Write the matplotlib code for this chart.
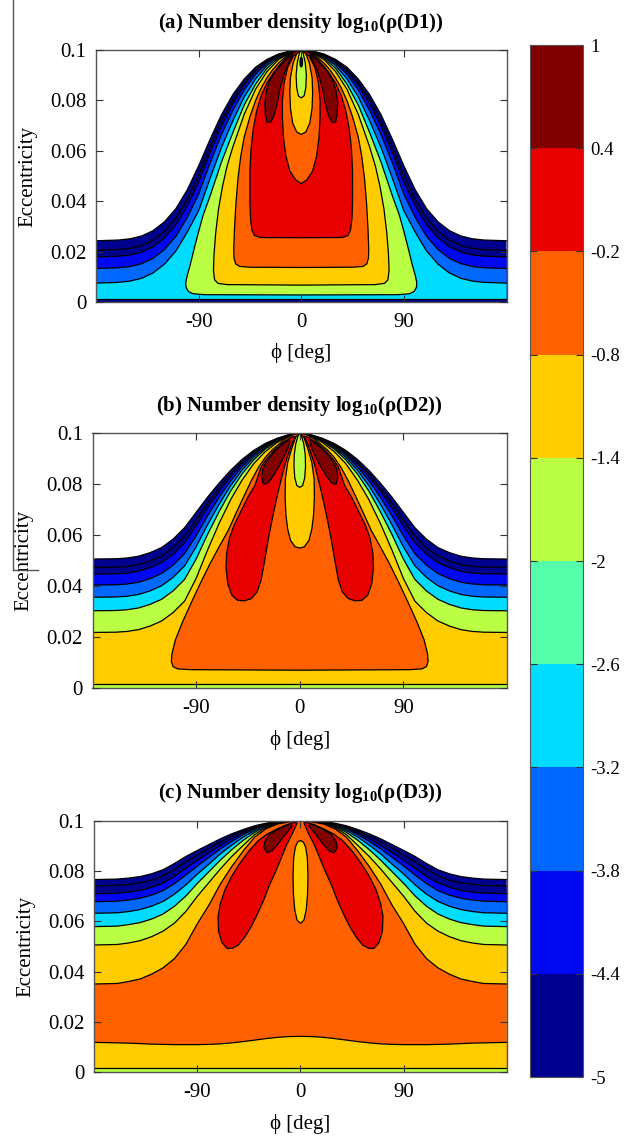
import numpy as np
import matplotlib
matplotlib.use("Agg")
import matplotlib.pyplot as plt
from matplotlib.colors import ListedColormap, BoundaryNorm
from matplotlib.cm import ScalarMappable
from matplotlib.lines import Line2D

plt.rcParams['font.family'] = ['Liberation Serif', 'DejaVu Serif']
plt.rcParams['mathtext.fontset'] = 'custom'
plt.rcParams['mathtext.rm'] = 'Liberation Serif'
plt.rcParams['mathtext.bf'] = 'Liberation Serif:bold'
plt.rcParams['axes.unicode_minus'] = False

# colour bands of log10(rho), low to high
LEVELS = [-5, -4.4, -3.8, -3.2, -2.6, -2, -1.4, -0.8, -0.2, 0.4, 1]
BAND_COLORS = ['#00008f', '#0008f0', '#0068ff', '#00dcff', '#55ffaa',
               '#bbff44', '#ffcc00', '#ff6000', '#e80000', '#800000']
NAVY, BLUE, DODGER, CYAN, AQUA, LIME, GOLD, ORANGE, RED, DARKRED = BAND_COLORS

# phi samples of the left half (the maps are symmetric in phi)
PHI = [-180, -160, -150, -140, -130, -120, -110, -100, -90, -80, -70, -60, -50, -40, -30, -20, -10, 0]

# ---- (a) D1 ----
ENV_A = [0.0243, 0.0246, 0.0251, 0.0262, 0.0283, 0.0318, 0.0370, 0.0445, 0.0540,
         0.0645, 0.0743, 0.0823, 0.0885, 0.0932, 0.0963, 0.0984, 0.0996, 0.1000]
# depth of each band edge below the envelope (outer -> inner)
DEPTH_A = [
    [0.0038, 0.0038, 0.0038, 0.0038, 0.0038, 0.0038, 0.0038, 0.0038, 0.0037, 0.0029, 0.0024, 0.0020, 0.0013, 0.0009, 0.0005, 0.0002, 0.0001, 0],
    [0.0064, 0.0064, 0.0064, 0.0064, 0.0064, 0.0064, 0.0064, 0.0064, 0.0064, 0.0053, 0.0045, 0.0036, 0.0024, 0.0016, 0.0008, 0.0004, 0.0002, 0],
    [0.0110, 0.0110, 0.0110, 0.0110, 0.0110, 0.0110, 0.0110, 0.0110, 0.0112, 0.0094, 0.0079, 0.0063, 0.0043, 0.0028, 0.0015, 0.0007, 0.0003, 0],
    [0.0168, 0.0168, 0.0168, 0.0168, 0.0168, 0.0168, 0.0168, 0.0168, 0.0178, 0.0155, 0.0130, 0.0104, 0.0071, 0.0046, 0.0024, 0.0011, 0.0005, 0],
]
BANDS_A = [NAVY, NAVY, BLUE, DODGER, CYAN]
A_BOTTOM = 0.0012
# closed regions, left half outline from top centre to bottom centre
A_LIME = ([0, -5, -10, -15, -20, -30, -40, -50, -60, -70, -80, -86, -90, -94, -97.5, -100, -101.3, -101, -99, -95, -85, 0],
          [0.1, 0.0997, 0.0989, 0.0978, 0.0968, 0.0928, 0.0865, 0.0782, 0.0672, 0.0555, 0.042, 0.0345, 0.028, 0.021, 0.0145, 0.0105, 0.0078, 0.0058, 0.0042, 0.0033, 0.0029, 0.0028])
A_GOLD = ([0, -5, -10, -15, -20, -30, -40, -50, -60, -65, -69, -72.5, -75, -76.5, -77, -76, -73, -65, 0],
          [0.1, 0.0996, 0.0987, 0.0975, 0.0962, 0.0915, 0.0845, 0.0745, 0.0615, 0.054, 0.046, 0.037, 0.0275, 0.019, 0.0125, 0.0088, 0.0074, 0.0069, 0.0067])
A_ORANGE = ([0, -5, -10, -15, -20, -25, -30, -35, -40, -45, -50, -53, -55.5, -57.3, -58.5, -59.2, -59, -57.5, -54, -45, 0],
            [0.1, 0.0995, 0.0984, 0.0968, 0.0948, 0.0922, 0.089, 0.085, 0.08, 0.0735, 0.0655, 0.058, 0.049, 0.039, 0.0295, 0.021, 0.0175, 0.0151, 0.0141, 0.0138, 0.0137])
A_RED = ([0, -5, -10, -15, -20, -25, -30, -35, -39, -42, -44, -45, -45, -44.5, -43.2, -41, -36, 0],
         [0.1, 0.0994, 0.0981, 0.096, 0.0935, 0.0905, 0.087, 0.082, 0.076, 0.069, 0.061, 0.052, 0.04, 0.033, 0.0285, 0.0264, 0.0256, 0.0255])
A_DARKRED = ([-30, -31.5, -32, -30.5, -27.5, -23.5, -17, -11.5, -7.5, -8, -11, -15, -18.5, -21, -23.5, -26.5],
             [0.0712, 0.0745, 0.079, 0.084, 0.088, 0.0912, 0.0945, 0.0968, 0.0982, 0.0975, 0.095, 0.0905, 0.085, 0.079, 0.0745, 0.0715])
# central valley, left half outline from top centre to bottom centre
A_VALLEY = [
    (ORANGE, [0, -7, -12, -15, -16.5, -16.5, -15.5, -13.5, -10, -5, 0],
             [0.1, 0.0975, 0.093, 0.087, 0.08, 0.073, 0.065, 0.058, 0.052, 0.0485, 0.047]),
    (GOLD, [0, -4, -7, -9.5, -10, -9.5, -7.5, -4, 0],
           [0.1, 0.0985, 0.095, 0.089, 0.083, 0.077, 0.071, 0.0675, 0.0665]),
    (LIME, [0, -1.5, -3.5, -4.5, -4, -2.5, 0],
           [0.1, 0.099, 0.095, 0.09, 0.085, 0.0818, 0.081]),
    (NAVY, [0, -0.9, -1.1, -0.9, 0],
           [0.0972, 0.0965, 0.0952, 0.0938, 0.0932]),
]

# ---- (b) D2 ----
ENV_B = [0.0507, 0.0508, 0.0511, 0.0518, 0.0532, 0.0552, 0.0585, 0.0630, 0.0690,
         0.0750, 0.0805, 0.0855, 0.0898, 0.0933, 0.0960, 0.0980, 0.0994, 0.1000]
DEPTH_B = [
    [0.0033, 0.0033, 0.0033, 0.0033, 0.0033, 0.0033, 0.0033, 0.0033, 0.0030, 0.0024, 0.0018, 0.0013, 0.0009, 0.0006, 0.0004, 0.0002, 0.0001, 0],
    [0.0059, 0.0059, 0.0059, 0.0059, 0.0059, 0.0059, 0.0059, 0.0059, 0.0053, 0.0042, 0.0032, 0.0024, 0.0017, 0.0011, 0.0006, 0.0004, 0.0001, 0],
    [0.0102, 0.0102, 0.0102, 0.0102, 0.0102, 0.0102, 0.0102, 0.0102, 0.0092, 0.0073, 0.0056, 0.0041, 0.0029, 0.0018, 0.0011, 0.0006, 0.0002, 0],
    [0.0150, 0.0150, 0.0150, 0.0150, 0.0150, 0.0150, 0.0150, 0.0150, 0.0135, 0.0108, 0.0083, 0.0060, 0.0042, 0.0027, 0.0017, 0.0009, 0.0003, 0],
    [0.0203, 0.0203, 0.0203, 0.0203, 0.0203, 0.0203, 0.0203, 0.0203, 0.0183, 0.0146, 0.0112, 0.0081, 0.0057, 0.0037, 0.0022, 0.0012, 0.0004, 0],
    [0.0288, 0.0288, 0.0288, 0.0288, 0.0288, 0.0288, 0.0288, 0.0288, 0.0259, 0.0207, 0.0158, 0.0115, 0.0081, 0.0052, 0.0032, 0.0017, 0.0006, 0],
]
BANDS_B = [NAVY, NAVY, BLUE, DODGER, CYAN, LIME, GOLD]
B_BOTTOM = 0.0018
B_ORANGE = ([0, -6, -12, -18, -24, -30, -36, -42, -48, -55, -62, -70, -78, -86, -94, -102, -108, -111, -111.5, -110, -106, -95, 0],
            [0.1, 0.0994, 0.098, 0.0958, 0.0935, 0.0905, 0.0865, 0.0815, 0.0758, 0.069, 0.062, 0.0555, 0.0488, 0.0415, 0.0338, 0.0258, 0.019, 0.0135, 0.0105, 0.0085, 0.0076, 0.0073, 0.0071])
B_RED = ([-54, -59, -62.5, -64, -63.5, -61, -57, -51, -45, -39, -36, -33.5, -29.5, -23, -15, -7, -3.5,
          -6.5, -9.5, -12.7, -15.5, -18.5, -21.5, -24.5, -27.5, -30.5, -33.5, -37, -42, -48],
         [0.0345, 0.0365, 0.041, 0.047, 0.053, 0.059, 0.064, 0.0695, 0.075, 0.0795, 0.0835, 0.0868, 0.0895, 0.093, 0.0962, 0.0985, 0.0988,
          0.0962, 0.0925, 0.088, 0.083, 0.0775, 0.0715, 0.065, 0.058, 0.05, 0.0425, 0.0378, 0.0352, 0.0343])
B_DARKRED = ([-31.5, -33, -32, -28, -22.5, -15.5, -9.5, -8.5, -10.5, -14, -18.5, -23.5, -28],
             [0.08, 0.0828, 0.0862, 0.0895, 0.0925, 0.0955, 0.0975, 0.0968, 0.094, 0.0905, 0.0867, 0.083, 0.0804])
B_VALLEY = [
    (GOLD, [0, -3.5, -7, -10.5, -12.5, -12.7, -12, -10.5, -8, -4, 0],
           [0.1, 0.0985, 0.094, 0.0885, 0.082, 0.075, 0.068, 0.0625, 0.058, 0.0555, 0.055]),
    (LIME, [0, -1.5, -3.5, -4.8, -5, -4.3, -2.5, 0],
           [0.1, 0.099, 0.0958, 0.0915, 0.087, 0.0825, 0.0795, 0.0788]),
]

# ---- (c) D3 ----
ENV_C = [0.0766, 0.0768, 0.0772, 0.0778, 0.0789, 0.0805, 0.0830, 0.0858, 0.0882,
         0.0905, 0.0928, 0.0948, 0.0965, 0.0980, 0.0990, 0.0997, 0.0999, 0.1000]
DEPTH_C = [
    [0.0025, 0.0025, 0.0025, 0.0025, 0.0025, 0.0024, 0.0023, 0.0021, 0.0018, 0.0015, 0.0012, 0.0009, 0.0006, 0.0004, 0.0002, 0.0001, 0, 0],
    [0.0056, 0.0056, 0.0056, 0.0055, 0.0054, 0.0053, 0.0051, 0.0047, 0.0039, 0.0032, 0.0026, 0.0019, 0.0013, 0.0008, 0.0004, 0.0002, 0.0001, 0],
    [0.0088, 0.0088, 0.0087, 0.0086, 0.0085, 0.0083, 0.0080, 0.0074, 0.0062, 0.0051, 0.0040, 0.0030, 0.0020, 0.0012, 0.0006, 0.0003, 0.0001, 0],
    [0.0134, 0.0134, 0.0133, 0.0131, 0.0129, 0.0126, 0.0122, 0.0113, 0.0094, 0.0078, 0.0060, 0.0045, 0.0030, 0.0019, 0.0010, 0.0004, 0.0002, 0],
    [0.0187, 0.0187, 0.0185, 0.0183, 0.0180, 0.0176, 0.0170, 0.0157, 0.0131, 0.0108, 0.0085, 0.0063, 0.0043, 0.0026, 0.0013, 0.0006, 0.0002, 0],
    [0.0260, 0.0260, 0.0258, 0.0255, 0.0250, 0.0244, 0.0237, 0.0218, 0.0182, 0.0151, 0.0120, 0.0090, 0.0063, 0.0035, 0.0017, 0.0008, 0.0003, 0],
    [0.0415, 0.0415, 0.0411, 0.0407, 0.0399, 0.0390, 0.0378, 0.0349, 0.0291, 0.0241, 0.0180, 0.0130, 0.0085, 0.0045, 0.0022, 0.0010, 0.0004, 0],
]
BANDS_C = [NAVY, NAVY, BLUE, DODGER, CYAN, LIME, GOLD, ORANGE]
C_LOW_GOLD = [0.0119, 0.0117, 0.0116, 0.0114, 0.0112, 0.0111, 0.0110, 0.0110, 0.0110,
              0.0111, 0.0113, 0.0117, 0.0122, 0.0128, 0.0134, 0.0139, 0.0142, 0.0143]
C_BOTTOM = 0.0017
C_RED = ([-64, -68.5, -71.5, -72, -70, -66, -60, -53, -45, -37, -29, -20, -12, -5, -3,
          -4.5, -8, -12, -16.5, -21.5, -27, -32.5, -38, -43.5, -49, -54.5, -59.5],
         [0.0492, 0.0515, 0.056, 0.062, 0.067, 0.0725, 0.078, 0.083, 0.088, 0.092, 0.0947, 0.0968, 0.0984, 0.0994, 0.0991,
          0.0975, 0.094, 0.0905, 0.0855, 0.08, 0.0745, 0.068, 0.0625, 0.0575, 0.0535, 0.0505, 0.0493])
C_DARKRED = ([-29.5, -32, -31, -27, -20, -13, -8, -7.5, -11, -15.5, -20.5, -25],
             [0.0873, 0.0893, 0.0918, 0.0945, 0.0965, 0.098, 0.0987, 0.0978, 0.0958, 0.0932, 0.0903, 0.088])
C_VALLEY = [
    (GOLD, [0, -2.5, -4.5, -6, -6.5, -6.2, -5, -3, 0],
           [0.0921, 0.0915, 0.0895, 0.085, 0.078, 0.071, 0.0645, 0.0605, 0.0592]),
]

TITLES = [r'(a) Number density log$_{\mathbf{10}}$(ρ(D1))',
          r'(b) Number density log$_{\mathbf{10}}$(ρ(D2))',
          r'(c) Number density log$_{\mathbf{10}}$(ρ(D3))']

LW = 0.9


def mirror_half(phi, e):
    # half curve on PHI (-180..0) -> full curve -180..180
    p = np.asarray(phi, float)
    v = np.asarray(e, float)
    return np.r_[p, -p[-2::-1]], np.r_[v, v[-2::-1]]


class Painter:
    def __init__(self, ax):
        self.ax = ax
        self.z = 1

    def under(self, e, color):
        p, v = mirror_half(PHI, e)
        self.ax.fill(np.r_[p, 180, -180], np.r_[v, 0, 0], color=color, lw=0, zorder=self.z)
        self.ax.plot(p, v, color='k', lw=LW, zorder=self.z + 0.5)
        self.z += 1

    def strip(self, top, color):
        self.ax.fill([-180, 180, 180, -180], [0, 0, top, top], color=color, lw=0, zorder=self.z)
        self.ax.plot([-180, 180], [top, top], color='k', lw=LW, zorder=self.z + 0.5)
        self.z += 1

    def closed_half(self, phi, e, color):
        p = np.asarray(phi, float)
        v = np.asarray(e, float)
        P = np.r_[p, -p[-2:0:-1]]
        V = np.r_[v, v[-2:0:-1]]
        self.ax.fill(P, V, facecolor=color, edgecolor='k', lw=LW, zorder=self.z)
        self.z += 1

    def pair(self, phi, e, color):
        p = np.asarray(phi, float)
        for sign in (1, -1):
            self.ax.fill(sign * p, e, facecolor=color, edgecolor='k', lw=LW, zorder=self.z)
        self.z += 1


fig = plt.figure(figsize=(6.26, 11.36), dpi=100)
axes = [fig.add_axes([96 / 626, 1 - 302 / 1136, 410.5 / 626, 252 / 1136]),
        fig.add_axes([92.5 / 626, 1 - 688.3 / 1136, 414.5 / 626, 255 / 1136]),
        fig.add_axes([94.3 / 626, 1 - 1072.3 / 1136, 412.4 / 626, 251.6 / 1136])]

panels = [(ENV_A, DEPTH_A, BANDS_A), (ENV_B, DEPTH_B, BANDS_B), (ENV_C, DEPTH_C, BANDS_C)]

for k, (ax, (env, depths, bands)) in enumerate(zip(axes, panels)):
    pt = Painter(ax)
    env = np.asarray(env)
    pt.under(env, bands[0])
    for d, c in zip(depths, bands[1:]):
        pt.under(env - np.asarray(d), c)

    if k == 0:
        pt.strip(A_BOTTOM, NAVY)
        pt.closed_half(*A_LIME, LIME)
        pt.closed_half(*A_GOLD, GOLD)
        pt.closed_half(*A_ORANGE, ORANGE)
        pt.closed_half(*A_RED, RED)
        pt.pair(*A_DARKRED, DARKRED)
        for c, p, e in A_VALLEY:
            pt.closed_half(p, e, c)
    elif k == 1:
        pt.strip(B_BOTTOM, LIME)
        pt.closed_half(*B_ORANGE, ORANGE)
        pt.pair(*B_RED, RED)
        pt.pair(*B_DARKRED, DARKRED)
        for c, p, e in B_VALLEY:
            pt.closed_half(p, e, c)
    else:
        pt.under(C_LOW_GOLD, GOLD)
        pt.strip(C_BOTTOM, LIME)
        pt.pair(*C_RED, RED)
        pt.pair(*C_DARKRED, DARKRED)
        for c, p, e in C_VALLEY:
            pt.closed_half(p, e, c)

    ax.set_xlim(-180, 180)
    ax.set_ylim(0, 0.1)
    ax.set_xticks([-90, 0, 90])
    ax.set_xticklabels(['-90', '0', '90'])
    ax.set_yticks([0, 0.02, 0.04, 0.06, 0.08, 0.1])
    ax.set_yticklabels(['0', '0.02', '0.04', '0.06', '0.08', '0.1'])
    ax.tick_params(direction='in', length=5, width=0.8, top=True, right=True,
                   labelsize=15, color='#333333')
    ax.tick_params(axis='x', pad=8)
    ax.tick_params(axis='y', pad=7)
    for sp in ax.spines.values():
        sp.set_zorder(200)
        sp.set_color('#555555')
        sp.set_linewidth(1.0)
    ax.xaxis.set_zorder(201)
    ax.yaxis.set_zorder(201)
    ax.set_xlabel('ϕ [deg]', fontsize=15, labelpad=8)
    ax.set_ylabel('Eccentricity', fontsize=15, labelpad=9)
    ax.set_title(TITLES[k], fontsize=15, fontweight='bold', pad=16)

# shared colour bar
cax = fig.add_axes([530 / 626, 1 - 1077 / 1136, 53 / 626, 1032 / 1136])
sm = ScalarMappable(norm=BoundaryNorm(LEVELS, len(BAND_COLORS)), cmap=ListedColormap(BAND_COLORS))
cb = fig.colorbar(sm, cax=cax, ticks=LEVELS)
cb.set_ticklabels(['%g' % v for v in LEVELS])
cb.ax.tick_params(direction='in', length=5, width=0.8, left=True, right=True,
                  labelsize=13.5, pad=5, color='#333333')
cb.outline.set_edgecolor('#555555')
cb.outline.set_linewidth(0.8)

# stray rules at the left edge of the original page
fig.add_artist(Line2D([13 / 626, 13 / 626], [1, 1 - 570 / 1136], color='#555555', lw=1))
fig.add_artist(Line2D([13 / 626, 38 / 626], [1 - 570 / 1136, 1 - 570 / 1136], color='#555555', lw=1))

fig.savefig('out.png', dpi=100)
